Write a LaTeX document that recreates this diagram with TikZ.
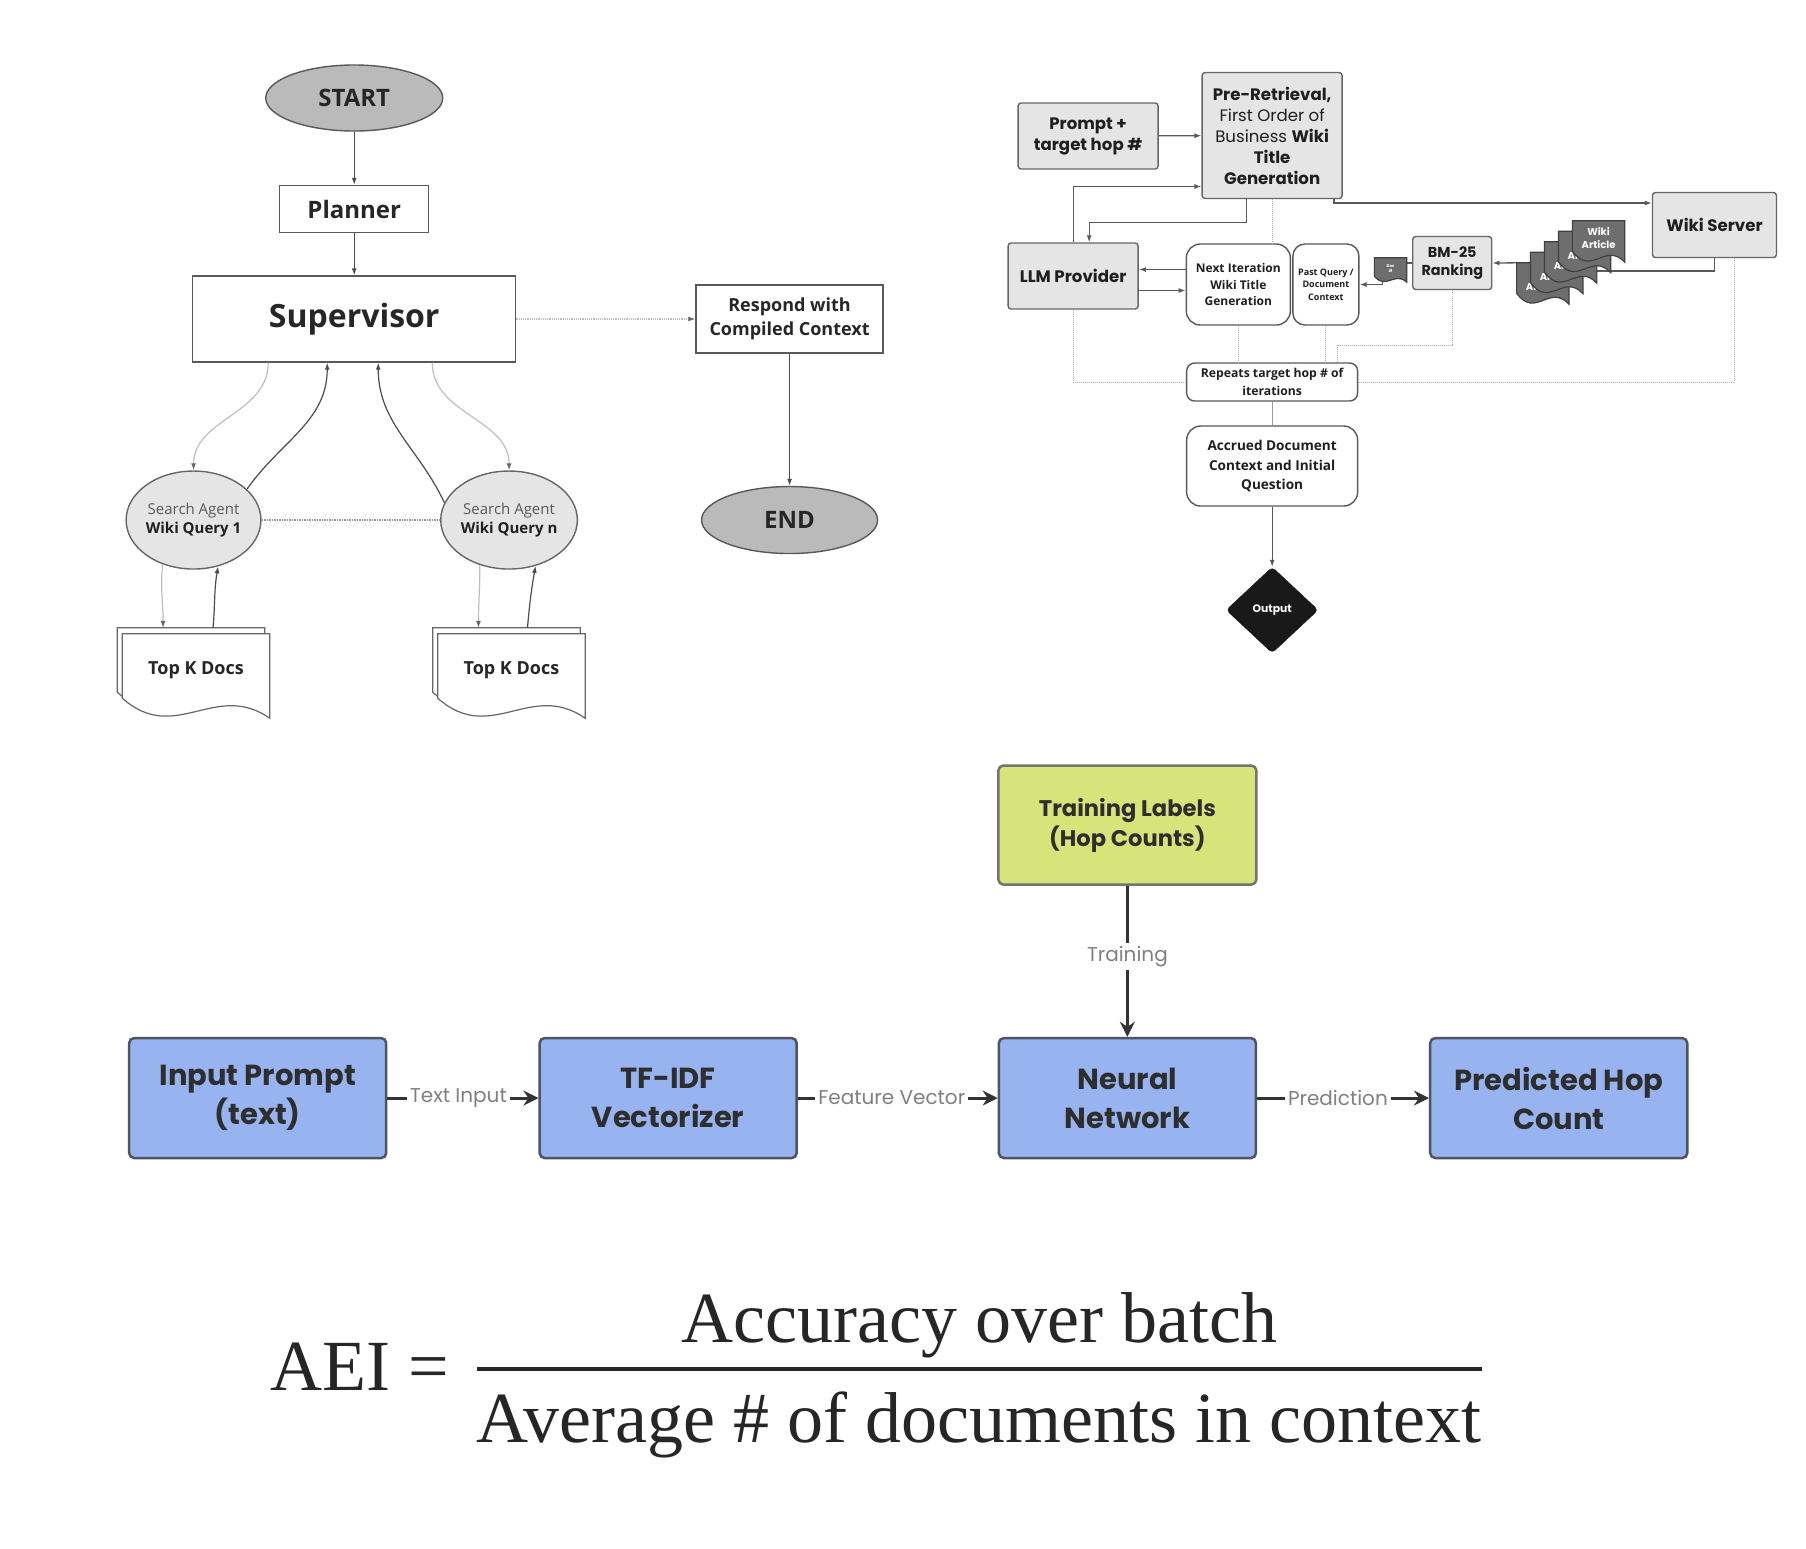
\documentclass[tikz,border=0pt]{standalone}
\usepackage{fontspec}
\usetikzlibrary{arrows.meta,shapes.geometric,calc}
\newfontfamily\opensans{Open Sans}
\newfontfamily\poppins{Poppins}
\newfontfamily\formulafont{Liberation Serif}
\definecolor{nnblue}{HTML}{98B4F0}
\definecolor{nnedge}{HTML}{50545E}
\definecolor{labgreen}{HTML}{D6E479}
\definecolor{docgray}{HTML}{6E6E6E}

% document outline with a wavy bottom, drawn round an empty node
\newcommand\wavedoc[4]{%
  \draw[#1] (#2.south west) -- (#2.north west) -- (#2.north east)
    -- ($(#2.south east)+(0,#3)$)
    .. controls ($(#2.south east)!.37!(#2.south west)+(0,-0.9*#3)$)
    and ($(#2.south east)!.64!(#2.south west)+(0,2.35*#3)$) .. (#2.south west) -- cycle
    ($(#2.center)+(0,0.2*#3)$) node[align=center] (#2-t) {#4};}

\begin{document}
\begin{tikzpicture}[x=0.995pt, y=-1pt,
    termnode/.style={ellipse, draw=black!65, line width=1.4pt, fill=black!27, inner sep=0pt,
      text=black!85, font=\opensans\bfseries\fontsize{24}{29}\selectfont},
    sqbox/.style={rectangle, draw=black!65, line width=1.4pt, fill=white, inner sep=0pt, align=center,
      text=black!85, font=\opensans\bfseries\fontsize{24}{29}\selectfont},
    agent/.style={ellipse, draw=black!60, line width=1.4pt, fill=black!10, minimum width=131pt,
      minimum height=98pt, inner sep=0pt, align=center, text=black!65,
      font=\opensans\fontsize{15}{19.4}\selectfont},
    docbox/.style={rectangle, inner sep=0pt, minimum width=147pt, minimum height=64pt},
    docwhite/.style={draw=black!60, line width=1.2pt, fill=white, text=black!85,
      font=\opensans\bfseries\fontsize{18}{22}\selectfont},
    darrow/.style={draw=black!70, line width=1.2pt, -{Latex[length=7pt,width=5pt]}},
    larrow/.style={draw=black!25, line width=1.2pt, -{Latex[length=7pt,width=5pt,color=black!60]}},
    gbox/.style={rectangle, rounded corners=3pt, draw=black!60, line width=1.4pt, fill=black!10,
      inner sep=0pt, align=center, text=black!88, font=\poppins\bfseries\fontsize{16.6}{21}\selectfont},
    wbox/.style={rectangle, rounded corners=14pt, draw=black!65, line width=1.4pt, fill=white,
      inner sep=0pt, align=center, text=black!88},
    artbox/.style={rectangle, inner sep=0pt, minimum width=52pt, minimum height=30pt},
    artdoc/.style={draw=black!75, line width=1.2pt, fill=docgray, text=white,
      font=\poppins\bfseries\fontsize{10}{13.5}\selectfont},
    tarrow/.style={draw=black!65, line width=1.3pt, -{Latex[length=7pt,width=5pt]}},
    dotline/.style={draw=black!30, line width=1pt, densely dotted},
    nnbox/.style={rectangle, rounded corners=5pt, draw=nnedge, line width=2.5pt, fill=nnblue,
      minimum width=257pt, minimum height=120pt, inner sep=0pt, align=center, text=black!82,
      font=\poppins\bfseries\fontsize{29}{39}\selectfont},
    flowarrow/.style={draw=black!80, line width=3pt, -{Stealth[length=15pt,width=15pt,inset=5pt]}},
    edgelabel/.style={fill=white, inner sep=3pt, text=black!50, font=\poppins\fontsize{20}{24}\selectfont},
    formula/.style={inner sep=0pt, text=black!85, font=\formulafont\fontsize{72}{86}\selectfont}]

\fill[white] (0,0) rectangle (1815,1548);
\useasboundingbox (0,0) rectangle (1815,1548);

% supervisor graph
\node[termnode, minimum width=177pt, minimum height=66pt] (start) at (356,98) {START};
\node[sqbox, minimum width=149pt, minimum height=47pt] (plan) at (356,209) {Planner};
\node[sqbox, minimum width=323pt, minimum height=86pt, font=\opensans\bfseries\fontsize{32}{38}\selectfont] (sup) at (356,319) {Supervisor};
\node[sqbox, minimum width=187pt, minimum height=68pt, font=\opensans\bfseries\fontsize{18}{23.7}\selectfont] (resp) at (793.5,319) {Respond with\\Compiled Context};
\node[termnode, minimum width=176pt, minimum height=67pt] (stop) at (793.5,520) {END};
\node[agent] (sa1) at (194.5,520) {Search Agent\\\textcolor{black!88}{\bfseries Wiki Query 1}};
\node[agent] (san) at (511.6,520) {Search Agent\\\textcolor{black!88}{\bfseries Wiki Query n}};
\node[docbox] (tk1b) at (192,660) {};
\node[docbox] (tk1) at (197,666) {};
\node[docbox] (tknb) at (509,660) {};
\node[docbox] (tkn) at (514,666) {};
\wavedoc{docwhite}{tk1b}{20}{}
\wavedoc{docwhite}{tk1}{20}{Top K Docs}
\wavedoc{docwhite}{tknb}{20}{}
\wavedoc{docwhite}{tkn}{20}{Top K Docs}

\draw[darrow] (start) -- (plan);
\draw[darrow] (plan) -- (sup);
\draw[larrow, densely dotted] (sup) -- (resp);
\draw[darrow] (resp) -- (stop);
\draw[black!40, line width=1.5pt, densely dotted] (sa1) -- (san);
\draw[larrow] ([xshift=-86pt]sup.south) to[out=-90,in=90] (sa1.north);
\draw[darrow] (sa1.30) to[out=55,in=-90] ([xshift=-27pt]sup.south);
\draw[darrow] (san.165) to[out=115,in=-90] ([xshift=24pt]sup.south);
\draw[larrow] ([xshift=78pt]sup.south) to[out=-90,in=90] (san.north);
\draw[larrow] (sa1.-125) to[out=-95,in=90] ([xshift=-28pt]tk1b.north);
\draw[darrow] ([xshift=22pt]tk1b.north) to[out=85,in=-100] (sa1.-62);
\draw[larrow] (san.-123) to[out=-90,in=90] ([xshift=-28pt]tknb.north);
\draw[darrow] ([xshift=21pt]tknb.north) to[out=85,in=-100] (san.-60);

% multi-hop retrieval loop
\node[gbox, minimum width=140pt, minimum height=66pt] (prompt) at (1093.5,136) {Prompt +\\target hop \#};
\node[gbox, minimum width=140pt, minimum height=126pt, font=\poppins\fontsize{16.6}{21}\selectfont] (pre) at (1278.5,135.5)
  {\textbf{Pre-Retrieval,}\\First Order of\\Business \textbf{Wiki}\\\textbf{Title}\\\textbf{Generation}};
\node[gbox, minimum width=124pt, minimum height=65pt] (wiki) at (1723,225) {Wiki Server};
\node[gbox, minimum width=130pt, minimum height=66pt] (llm) at (1078.5,276) {LLM Provider};
\node[wbox, minimum width=104pt, minimum height=81pt, font=\opensans\bfseries\fontsize{12}{16.7}\selectfont] (next) at (1244.5,284.5) {Next Iteration\\Wiki Title\\Generation};
\node[wbox, rounded corners=12pt, minimum width=66pt, minimum height=81pt, font=\opensans\bfseries\fontsize{9}{12.5}\selectfont] (past) at (1332.5,284.5) {Past Query /\\Document\\Context};
\node[gbox, minimum width=79pt, minimum height=53pt, font=\poppins\bfseries\fontsize{14.4}{18.5}\selectfont] (bm) at (1459.5,263) {BM-25\\Ranking};
\node[rectangle, inner sep=0pt, minimum width=32pt, minimum height=18pt] (sdoc) at (1397.5,267) {};
\node[wbox, rounded corners=8pt, minimum width=171pt, minimum height=38pt, font=\opensans\bfseries\fontsize{12.2}{17.7}\selectfont] (rep) at (1278.5,382) {Repeats target hop \# of\\iterations};
\node[wbox, minimum width=171pt, minimum height=80pt, font=\opensans\bfseries\fontsize{13.6}{19.5}\selectfont] (acc) at (1278.5,466) {Accrued Document\\Context and Initial\\Question};
\node[diamond, fill=black!90, draw=black!90, rounded corners=4pt, minimum width=92pt, minimum height=86pt, inner sep=0pt,
  text=white, font=\poppins\bfseries\fontsize{10.8}{13}\selectfont] (out) at (1278.5,610) {Output};
\foreach \i/\x/\y in {1/1550.5/278, 2/1564.5/267.5, 3/1578.5/257, 4/1592.5/246.5, 5/1606.5/236}
  \node[artbox] (art\i) at (\x,\y) {};

\draw[dotline] (pre.south) -- (pre.south |- next.north);
\draw[dotline] (llm.south) |- (rep.west);
\draw[dotline] ([xshift=20pt]wiki.south) |- (rep.east);
\draw[dotline] (next.south) -- (next.south |- rep.north);
\draw[dotline] (past.south) -- (past.south |- rep.north);
\draw[dotline] (bm.south) -- ++(0,55) -| ([xshift=65pt]rep.north);
\draw[black!40, line width=1.2pt] (rep) -- (acc);
\draw[tarrow] (acc) -- (out);
\draw[tarrow] (prompt) -- (pre);
\draw[tarrow] (llm.north) |- ([yshift=-51pt]pre.west);
\draw[tarrow] ([xshift=-26pt]pre.south) -- ++(0,23) -| ([xshift=16pt]llm.north);
\draw[tarrow] ([xshift=-9pt]pre.south east) |- ([yshift=22pt]wiki.west);
\draw[tarrow] ([yshift=15pt]next.west) -- ([yshift=15pt]next.west -| llm.east);
\draw[tarrow] ([yshift=-14.5pt]llm.east) -- ([yshift=-14.5pt]llm.east -| next.west);
\draw[black!65, line width=1.3pt] (wiki.south) |- ([yshift=-14pt]art3.east);
\draw[tarrow] (art1.north west) -- (bm.east);
\draw[black!65, line width=1.3pt] (bm.west) -- (bm.west -| sdoc.east);
\draw[tarrow] ([xshift=-8pt]sdoc.south) |- (past.east);
\foreach \i in {1,...,5} {
  \wavedoc{artdoc}{art\i}{11}{Wiki\\Article}
}
\wavedoc{artdoc, font=\poppins\bfseries\fontsize{4}{5}\selectfont}{sdoc}{6}{Doc\\\#}

% hop count classifier
\node[nnbox, fill=labgreen, draw=black!55, minimum width=258pt, minimum height=119pt,
  font=\poppins\bfseries\fontsize{22.6}{30}\selectfont] (lab) at (1133,825) {Training Labels\\(Hop Counts)};
\node[nnbox] (inp) at (259,1098) {Input Prompt\\(text)};
\node[nnbox] (tfidf) at (671.5,1098) {TF-IDF\\Vectorizer};
\node[nnbox] (nn) at (1133,1098) {Neural\\Network};
\node[nnbox] (pred) at (1566.5,1098) {Predicted Hop\\Count};
\draw[flowarrow] (inp) -- node[edgelabel, pos=.47] (l1) {Text Input} (tfidf);
\draw[flowarrow] (tfidf) -- node[edgelabel, pos=.47] (l2) {Feature Vector} (nn);
\draw[flowarrow] (nn) -- node[edgelabel, pos=.47] (l3) {Prediction} (pred);
\draw[flowarrow] (lab) -- node[edgelabel, pos=.47] (l4) {Training} (nn);

% efficiency index
\node[formula, anchor=base west] (aei) at (272,1390) {AEI =};
\node[formula, anchor=base] (num) at (984,1342) {Accuracy over batch};
\node[formula, anchor=base] (den) at (984,1442) {Average \# of documents in context};
\draw[line width=3.5pt, black!85] ([yshift=22pt]den.north west) -- ([yshift=22pt]den.north east);
\end{tikzpicture}
\end{document}
